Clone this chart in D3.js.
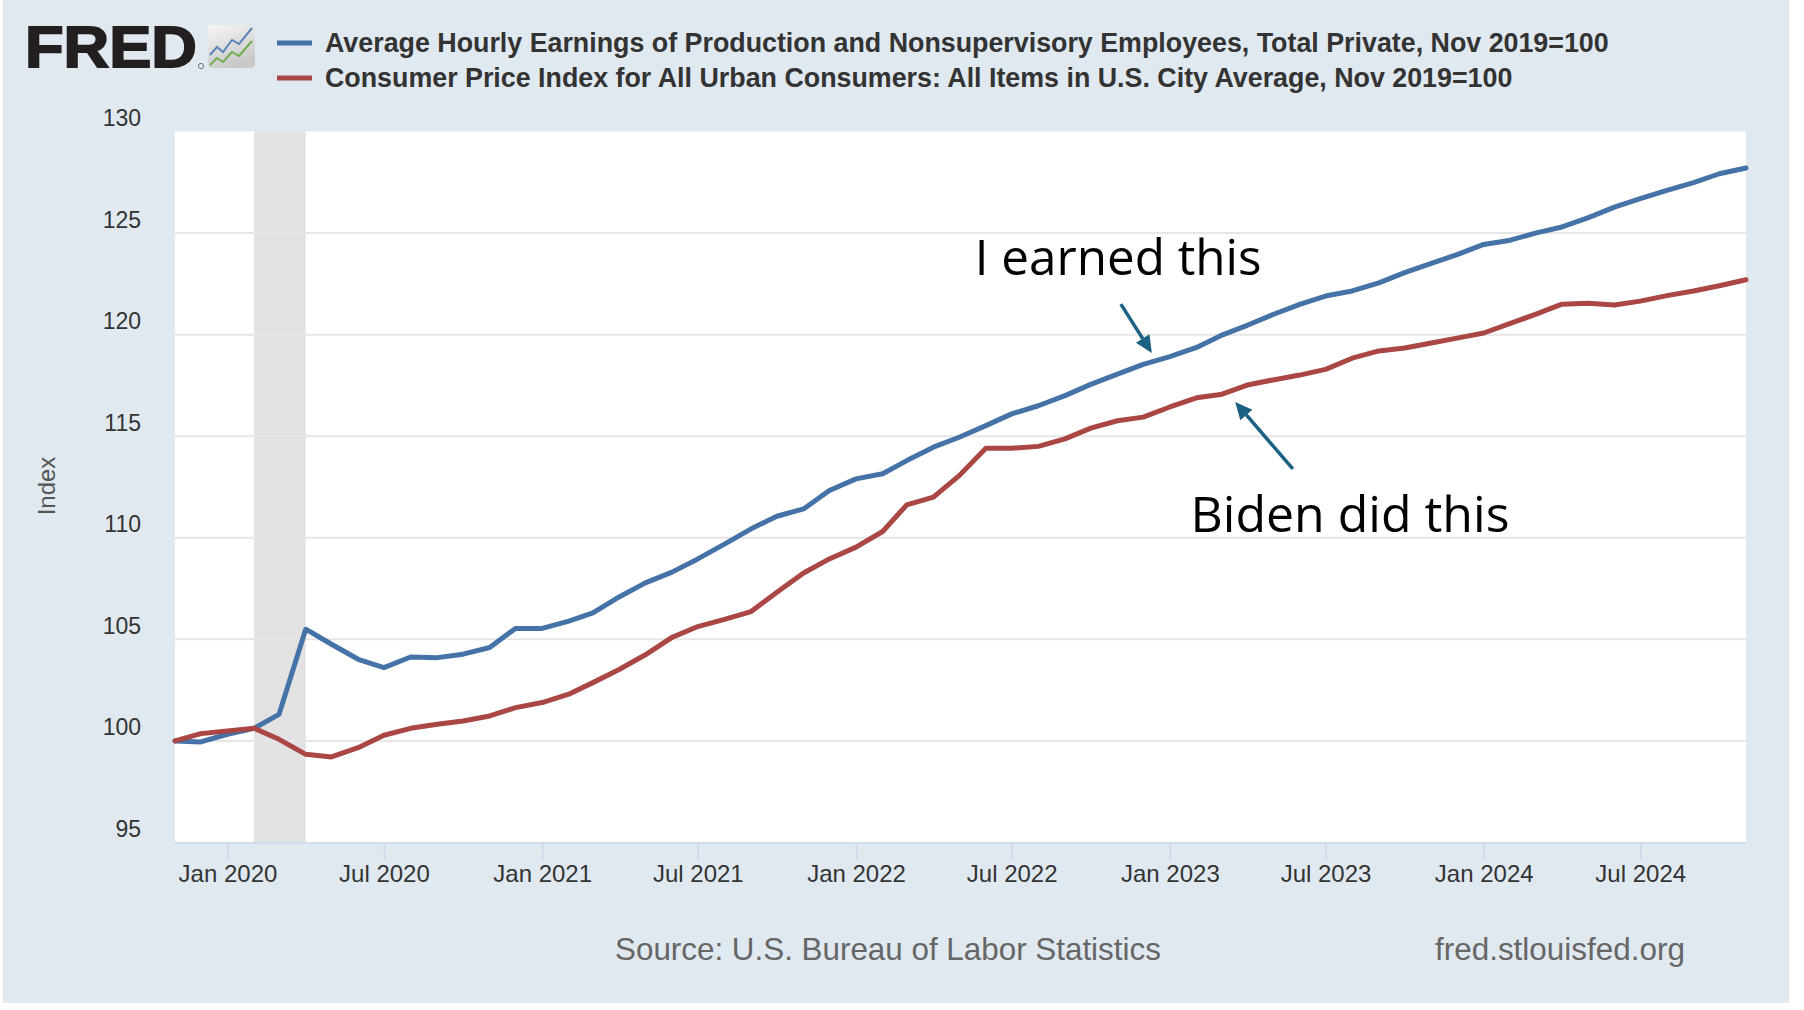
<!DOCTYPE html>
<html>
<head>
<meta charset="utf-8">
<script src="https://cdn.jsdelivr.net/npm/d3@7"></script>
<style>
  body { margin: 0; background: #fff; }
  svg { display: block; }
</style>
</head>
<body>
<div id="chart"></div>
<script>
// monthly observations, Nov 2019 .. Nov 2024 (Nov 2019 = 100)
const startMonth = new Date(2019, 10, 1);
const endMonth = new Date(2024, 10, 1);
const months = d3.timeMonth.range(startMonth, d3.timeMonth.offset(endMonth, 1));

const earnings = [
  100.0, 99.95, 100.33, 100.62, 101.31, 105.5, 104.76, 104.02, 103.61, 104.13,
  104.1, 104.27, 104.6, 105.54, 105.54, 105.9, 106.3, 107.1, 107.78, 108.31,
  108.96, 109.69, 110.44, 111.06, 111.42, 112.33, 112.9, 113.15, 113.8, 114.46,
  114.95, 115.52, 116.1, 116.5, 117.0, 117.55, 118.06, 118.54, 118.92, 119.37,
  119.95, 120.46, 120.99, 121.49, 121.9, 122.15, 122.55, 123.05, 123.51, 123.94,
  124.44, 124.65, 125.0, 125.3, 125.75, 126.28, 126.69, 127.1, 127.48, 127.92,
  128.2
];

const cpi = [
  100.0, 100.36, 100.49, 100.62, 100.08, 99.34, 99.21, 99.67, 100.28, 100.62,
  100.82, 100.98, 101.23, 101.64, 101.89, 102.3, 102.87, 103.53, 104.24, 105.1,
  105.63, 105.98, 106.37, 107.32, 108.27, 108.96, 109.54, 110.31, 111.62, 112.0,
  113.06, 114.41, 114.41, 114.5, 114.87, 115.4, 115.76, 115.94, 116.44, 116.89,
  117.05, 117.52, 117.77, 118.01, 118.29, 118.84, 119.2, 119.34, 119.59, 119.83,
  120.08, 120.55, 121.0, 121.5, 121.55, 121.46, 121.65, 121.92, 122.15, 122.41,
  122.7
];

const seriesNames = [
  "Average Hourly Earnings of Production and Nonsupervisory Employees, Total Private, Nov 2019=100",
  "Consumer Price Index for All Urban Consumers: All Items in U.S. City Average, Nov 2019=100"
];
const seriesColors = ["#4572a7", "#aa4643"];

const xTickLabels = ["Jan 2020", "Jul 2020", "Jan 2021", "Jul 2021", "Jan 2022",
  "Jul 2022", "Jan 2023", "Jul 2023", "Jan 2024", "Jul 2024"];
const yTicks = [95, 100, 105, 110, 115, 120, 125, 130];

// recession shading (peak to trough)
const recession = ["2020-02-01", "2020-04-01"];

// hand-drawn notes placed in data space
const notes = [
  { text: "I earned this", date: "2022-05-19", value: 122.93, width: 287 },
  { text: "Biden did this", date: "2023-01-25", value: 110.29, width: 319 }
];
const arrows = [
  { from: ["2022-11-05", 121.5], to: ["2022-12-11", 119.1] },
  { from: ["2023-05-24", 113.39], to: ["2023-03-18", 116.68] }
];

const W = 1804, H = 1010;
const plot = { left: 175, right: 1746, top: 131.5, bottom: 842.5 };
const parseDay = d3.timeParse("%Y-%m-%d");
const parseTick = d3.timeParse("%b %Y");

const svg = d3.select("#chart").append("svg")
  .attr("width", W).attr("height", H);

// page panel
svg.append("rect").attr("x", 3).attr("y", 0).attr("width", 1786).attr("height", 1003)
  .attr("fill", "#e1e9f0");

const x = d3.scaleTime().domain([startMonth, endMonth]).range([plot.left, plot.right]);
const y = d3.scaleLinear().domain([95, 130]).range([plot.bottom, plot.top]);

// fit a text element to a target width
function fitText(sel, target) {
  const w = sel.node().getComputedTextLength();
  const fs = parseFloat(sel.attr("font-size"));
  sel.attr("font-size", (fs * target / w).toFixed(2));
}

// plot background
svg.append("rect")
  .attr("x", plot.left).attr("y", plot.top)
  .attr("width", plot.right - plot.left).attr("height", plot.bottom - plot.top)
  .attr("fill", "#fff");

// recession band
svg.append("rect")
  .attr("x", x(parseDay(recession[0])))
  .attr("y", plot.top)
  .attr("width", x(parseDay(recession[1])) - x(parseDay(recession[0])))
  .attr("height", plot.bottom - plot.top)
  .attr("fill", "#e2e2e2");

// horizontal grid
svg.append("g").selectAll("line")
  .data(yTicks.filter(v => v > 95 && v < 130))
  .join("line")
  .attr("x1", plot.left).attr("x2", plot.right)
  .attr("y1", d => y(d)).attr("y2", d => y(d))
  .attr("stroke", "#e6e6e6").attr("stroke-width", 2);

// y axis labels
const yAxis = svg.append("g")
  .attr("transform", `translate(${plot.left},0)`)
  .call(d3.axisLeft(y).tickValues(yTicks).tickSize(0).tickPadding(34));
yAxis.select(".domain").remove();
yAxis.selectAll("text")
  .attr("font-family", "Liberation Sans, Arial, sans-serif")
  .attr("font-size", 23)
  .attr("fill", "#333")
  .attr("dy", "-0.26em");

svg.append("text")
  .attr("transform", "translate(46,486) rotate(-90)")
  .attr("text-anchor", "middle")
  .attr("dominant-baseline", "central")
  .attr("font-family", "Liberation Sans, Arial, sans-serif")
  .attr("font-size", 24)
  .attr("fill", "#555")
  .text("Index");

// x axis
const xAxis = svg.append("g")
  .attr("transform", `translate(0,${plot.bottom})`)
  .call(d3.axisBottom(x)
    .tickValues(xTickLabels.map(parseTick))
    .tickFormat(d3.timeFormat("%b %Y"))
    .tickSize(17).tickPadding(5));
xAxis.select(".domain").attr("stroke", "#ccd6eb").attr("stroke-width", 1.5)
  .attr("d", `M${plot.left},0.5H${plot.right}`);
xAxis.selectAll(".tick line").attr("stroke", "#ccd6eb").attr("stroke-width", 1.5);
xAxis.selectAll("text")
  .attr("font-family", "Liberation Sans, Arial, sans-serif")
  .attr("font-size", 24)
  .attr("fill", "#333");

// series lines
const line = d3.line()
  .x((d, i) => x(months[i]))
  .y(d => y(d));

[earnings, cpi].forEach((vals, k) => {
  svg.append("path")
    .datum(vals)
    .attr("fill", "none")
    .attr("stroke", seriesColors[k])
    .attr("stroke-width", 5)
    .attr("stroke-linejoin", "round")
    .attr("stroke-linecap", "round")
    .attr("d", line);
});

// FRED logo
svg.append("text")
  .attr("x", 25).attr("y", 67)
  .attr("font-family", "Liberation Sans, Arial, sans-serif")
  .attr("font-weight", 700)
  .attr("font-size", 58)
  .attr("fill", "#231f20")
  .attr("stroke", "#231f20").attr("stroke-width", 1.8)
  .attr("textLength", 172).attr("lengthAdjust", "spacingAndGlyphs")
  .text("FRED");
svg.append("circle").attr("cx", 201).attr("cy", 66).attr("r", 2.6)
  .attr("fill", "none").attr("stroke", "#555").attr("stroke-width", 0.8);

const defs = svg.append("defs");
const grad = defs.append("linearGradient").attr("id", "iconGrad")
  .attr("x1", 0).attr("y1", 0).attr("x2", 0.4).attr("y2", 1);
grad.append("stop").attr("offset", 0).attr("stop-color", "#f6f6f6");
grad.append("stop").attr("offset", 1).attr("stop-color", "#c9c9c9");

const icon = svg.append("g").attr("transform", "translate(208,25)");
icon.append("rect").attr("width", 47).attr("height", 43).attr("rx", 4)
  .attr("fill", "url(#iconGrad)");
const iconLine = d3.line();
icon.append("path")
  .attr("d", iconLine([[2, 30], [9, 22], [15, 27], [24, 15], [31, 19], [44, 3]]))
  .attr("fill", "none").attr("stroke", "#5b84b8").attr("stroke-width", 2);
icon.append("path")
  .attr("d", iconLine([[2, 40], [9, 33], [15, 37], [24, 27], [31, 31], [44, 16]]))
  .attr("fill", "none").attr("stroke", "#6fae4f").attr("stroke-width", 2);

// legend
const legendRows = [43, 78];
seriesNames.forEach((name, k) => {
  svg.append("line")
    .attr("x1", 277).attr("x2", 312)
    .attr("y1", legendRows[k]).attr("y2", legendRows[k])
    .attr("stroke", seriesColors[k]).attr("stroke-width", 5);
});
const leg1 = svg.append("text")
  .attr("x", 325).attr("y", legendRows[0])
  .attr("dominant-baseline", "central")
  .attr("font-family", "Liberation Sans, Arial, sans-serif")
  .attr("font-weight", 700).attr("font-size", 24).attr("fill", "#333")
  .text(seriesNames[0]);
fitText(leg1, 1284);
svg.append("text")
  .attr("x", 325).attr("y", legendRows[1])
  .attr("dominant-baseline", "central")
  .attr("font-family", "Liberation Sans, Arial, sans-serif")
  .attr("font-weight", 700).attr("font-size", leg1.attr("font-size")).attr("fill", "#333")
  .text(seriesNames[1]);

// footer
const src = svg.append("text")
  .attr("x", 615).attr("y", 960)
  .attr("font-family", "Liberation Sans, Arial, sans-serif")
  .attr("font-size", 31).attr("fill", "#666")
  .text("Source: U.S. Bureau of Labor Statistics");
fitText(src, 546);
const site = svg.append("text")
  .attr("x", 1435).attr("y", 960)
  .attr("font-family", "Liberation Sans, Arial, sans-serif")
  .attr("font-size", 31).attr("fill", "#666")
  .text("fred.stlouisfed.org");
fitText(site, 250);

// annotations
notes.forEach(n => {
  const t = svg.append("text")
    .attr("x", x(parseDay(n.date)))
    .attr("y", y(n.value))
    .attr("font-family", "Open Sans, Noto Sans, sans-serif")
    .attr("font-size", 50).attr("fill", "#000")
    .text(n.text);
  fitText(t, n.width);
});

const arrowColor = "#1b6183";
arrows.forEach(a => {
  const x1 = x(parseDay(a.from[0])), y1 = y(a.from[1]);
  const x2 = x(parseDay(a.to[0])), y2 = y(a.to[1]);
  const ang = Math.atan2(y2 - y1, x2 - x1);
  const headLen = 17, headW = 8;
  const bx = x2 - headLen * Math.cos(ang), by = y2 - headLen * Math.sin(ang);
  svg.append("line")
    .attr("x1", x1).attr("y1", y1).attr("x2", bx).attr("y2", by)
    .attr("stroke", arrowColor).attr("stroke-width", 3.5);
  const px = -Math.sin(ang) * headW, py = Math.cos(ang) * headW;
  svg.append("path")
    .attr("d", `M${x2},${y2}L${bx + px},${by + py}L${bx - px},${by - py}Z`)
    .attr("fill", arrowColor);
});
</script>
</body>
</html>
